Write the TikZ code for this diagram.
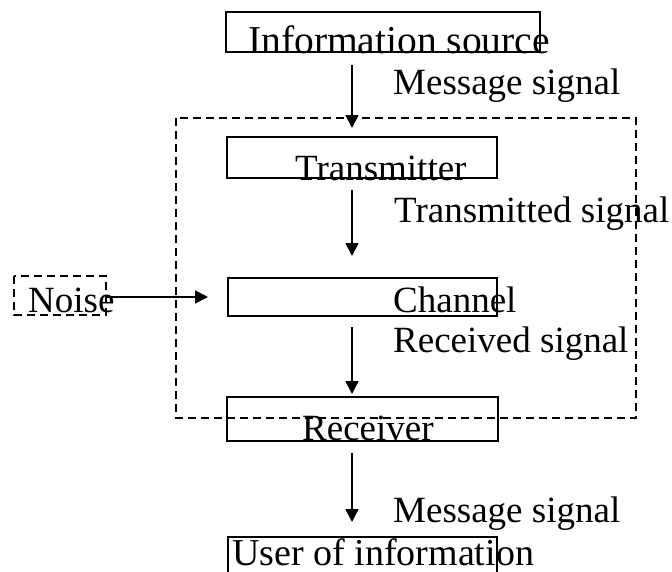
\documentclass[tikz,border=0pt]{standalone}
\usepackage{fontspec}
\setmainfont{Liberation Serif}
\usetikzlibrary{arrows.meta}
\begin{document}
\begin{tikzpicture}[x=1pt,y=-1pt,
  box/.style={draw,line width=1.8pt,inner sep=0pt},
  dbox/.style={draw,line width=1.8pt,dash pattern=on 8pt off 5pt},
  lbl/.style={anchor=base west,inner sep=0pt,font=\fontsize{37}{44}\selectfont},
  biglbl/.style={lbl,font=\fontsize{39.5}{46}\selectfont},
  arr/.style={line width=1.8pt,-{Triangle[length=13pt,width=13pt]}}]
\useasboundingbox (0,0) rectangle (672,571);

% boxes
\draw[box] (226,12) rectangle (540,52);
\draw[box] (227,137) rectangle (497,178);
\draw[box] (228,278) rectangle (497,316);
\draw[box] (227,397) rectangle (498,441);
\draw[box] (228,575) -- (228,537) -- (497,537) -- (497,575);
\draw[dbox] (176,118) rectangle (636,418);
\draw[dbox] (14,276) rectangle (106,315);

% texts
\node[biglbl] (src) at (248,53) {Information source};
\node[lbl] (m1) at (393,94) {Message signal};
\node[lbl] (tx) at (295,180) {Transmitter};
\node[lbl] (ts) at (394,222) {Transmitted signal};
\node[lbl] (noise) at (28,312) {Noise};
\node[lbl] (ch) at (393,312) {Channel};
\node[lbl] (rs) at (393,352) {Received signal};
\node[lbl] (rx) at (302,440) {Receiver};
\node[lbl] (m2) at (393,522) {Message signal};
\node[lbl,font=\fontsize{38}{45}\selectfont] (user) at (232,565) {User of information};

% arrow end points
\coordinate (a1s) at (352,65);  \coordinate (a1e) at (352,128);
\coordinate (a2s) at (352,190); \coordinate (a2e) at (352,256);
\coordinate (a3s) at (352,327); \coordinate (a3e) at (352,394);
\coordinate (a4s) at (352,453); \coordinate (a4e) at (352,522);
\coordinate (ns) at (106,297);  \coordinate (ne) at (208,297);

\draw[arr] (a1s) -- (a1e);
\draw[arr] (a2s) -- (a2e);
\draw[arr] (a3s) -- (a3e);
\draw[arr] (a4s) -- (a4e);
\draw[arr] (ns) -- (ne);
\end{tikzpicture}
\end{document}
